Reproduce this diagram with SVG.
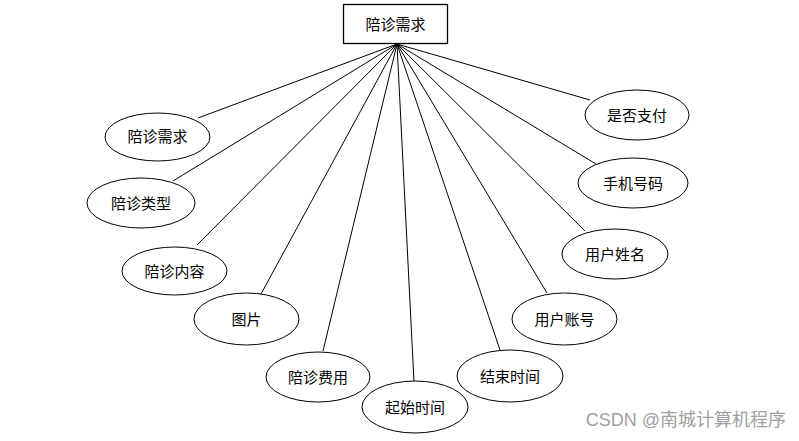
<svg xmlns="http://www.w3.org/2000/svg" width="799" height="441" viewBox="0 0 799 441">
<style>
.e{fill:#fff;stroke:#000;stroke-width:1}
.t{font-family:"Noto Sans CJK SC","Microsoft YaHei",sans-serif;font-size:15px;fill:#000;text-anchor:middle;dominant-baseline:central}
.c line{stroke:#000;stroke-width:1}
</style>
<rect width="799" height="441" fill="#fff"/>
<g id="connectors" class="c">
<line x1="397" y1="44" x2="198" y2="118"/>
<line x1="397" y1="44" x2="173" y2="181"/>
<line x1="397" y1="44" x2="197" y2="245"/>
<line x1="397" y1="44" x2="261" y2="294"/>
<line x1="397" y1="44" x2="323" y2="351"/>
<line x1="397" y1="44" x2="414" y2="382"/>
<line x1="397" y1="44" x2="500" y2="350"/>
<line x1="397" y1="44" x2="547" y2="293"/>
<line x1="397" y1="44" x2="585" y2="231"/>
<line x1="397" y1="44" x2="596" y2="164"/>
<line x1="397" y1="44" x2="590" y2="100"/>
</g>
<g id="root">
<rect x="343.5" y="4.5" width="104" height="39" fill="#fff" stroke="#000" stroke-width="1.3"/>
<text class="t" x="395.5" y="23">陪诊需求</text>
</g>
<g id="n1"><ellipse class="e" cx="157.5" cy="137" rx="52.5" ry="24"/><text class="t" x="157.5" y="135">陪诊需求</text></g>
<g id="n2"><ellipse class="e" cx="141" cy="203" rx="54" ry="25"/><text class="t" x="141" y="202">陪诊类型</text></g>
<g id="n3"><ellipse class="e" cx="174.5" cy="271" rx="52.5" ry="24"/><text class="t" x="174.5" y="270">陪诊内容</text></g>
<g id="n4"><ellipse class="e" cx="246.5" cy="319" rx="52.5" ry="26"/><text class="t" x="246.5" y="318">图片</text></g>
<g id="n5"><ellipse class="e" cx="318" cy="377" rx="52" ry="25"/><text class="t" x="318" y="376">陪诊费用</text></g>
<g id="n6"><ellipse class="e" cx="415" cy="407" rx="53" ry="26"/><text class="t" x="415" y="406">起始时间</text></g>
<g id="n7"><ellipse class="e" cx="510" cy="376" rx="53" ry="26"/><text class="t" x="510" y="375">结束时间</text></g>
<g id="n8"><ellipse class="e" cx="564.5" cy="319" rx="52.5" ry="26"/><text class="t" x="564.5" y="318">用户账号</text></g>
<g id="n9"><ellipse class="e" cx="615" cy="254" rx="53" ry="25"/><text class="t" x="615" y="253">用户姓名</text></g>
<g id="n10"><ellipse class="e" cx="633" cy="183" rx="55" ry="25"/><text class="t" x="633" y="182">手机号码</text></g>
<g id="n11"><ellipse class="e" cx="637" cy="115" rx="52" ry="25"/><text class="t" x="637" y="114">是否支付</text></g>
<text x="786" y="420" font-family="'Liberation Sans','Noto Sans CJK SC',sans-serif" font-size="18" fill="#a0a0a0" text-anchor="end" dominant-baseline="central">CSDN @南城计算机程序</text>
</svg>
